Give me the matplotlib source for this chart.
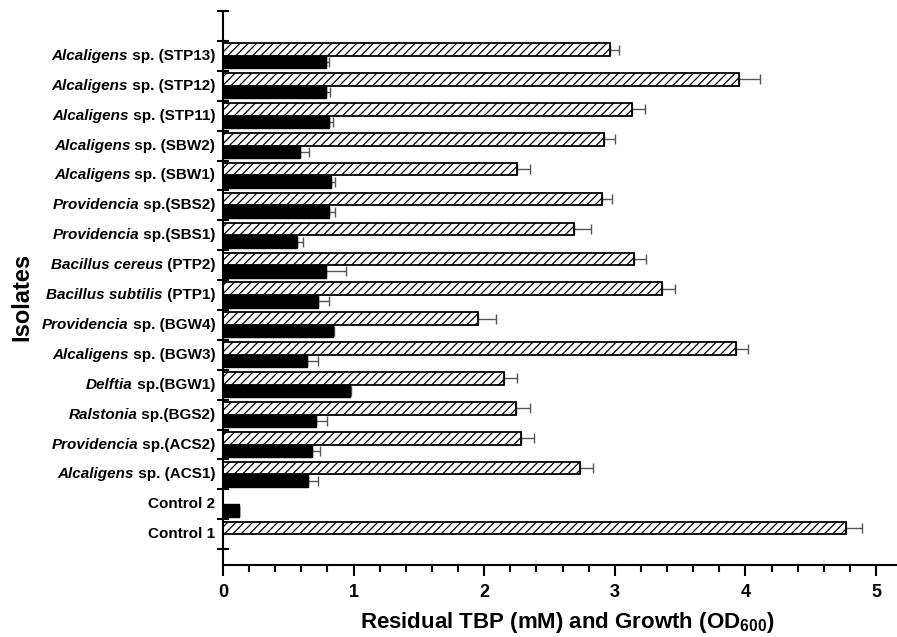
import numpy as np
import matplotlib
import matplotlib.pyplot as plt

matplotlib.use('Agg')

plt.rcParams['font.family'] = ['Liberation Sans', 'DejaVu Sans']
plt.rcParams['mathtext.fontset'] = 'custom'
plt.rcParams['mathtext.rm'] = 'Liberation Sans'
plt.rcParams['mathtext.it'] = 'Liberation Sans:italic'
plt.rcParams['mathtext.bf'] = 'Liberation Sans:bold'
plt.rcParams['hatch.linewidth'] = 0.9

# bottom to top
genus = ['', '', 'Alcaligens', 'Providencia', 'Ralstonia', 'Delftia',
         'Alcaligens', 'Providencia', 'Bacillus subtilis', 'Bacillus cereus',
         'Providencia', 'Providencia', 'Alcaligens', 'Alcaligens',
         'Alcaligens', 'Alcaligens', 'Alcaligens']
suffix = ['Control 1', 'Control 2', ' sp. (ACS1)', ' sp.(ACS2)', ' sp.(BGS2)',
          ' sp.(BGW1)', ' sp. (BGW3)', ' sp. (BGW4)', ' (PTP1)', ' (PTP2)',
          ' sp.(SBS1)', ' sp.(SBS2)', ' sp. (SBW1)', ' sp. (SBW2)',
          ' sp. (STP11)', ' sp. (STP12)', ' sp. (STP13)']

tbp = [4.77, np.nan, 2.73, 2.28, 2.24, 2.15, 3.93, 1.95, 3.36, 3.15,
       2.69, 2.90, 2.25, 2.92, 3.13, 3.95, 2.96]
tbp_err = [0.12, np.nan, 0.10, 0.10, 0.11, 0.10, 0.09, 0.14, 0.10, 0.09,
           0.13, 0.08, 0.10, 0.08, 0.10, 0.16, 0.07]

growth = [np.nan, 0.12, 0.65, 0.68, 0.71, 0.97, 0.64, 0.84, 0.73, 0.79,
          0.57, 0.81, 0.83, 0.59, 0.81, 0.79, 0.79]
growth_err = [np.nan, 0.0, 0.08, 0.06, 0.09, 0.01, 0.09, 0.01, 0.08, 0.15,
              0.04, 0.05, 0.03, 0.07, 0.03, 0.03, 0.02]


def draw_chart():
    fig = plt.figure(figsize=(8.97, 6.37), dpi=100)
    ax = fig.add_axes([0.2486, 0.1130, 0.7514, 0.8697])

    pos = np.arange(len(suffix))
    h = 0.42
    off = 0.21

    ax.barh(pos + off, tbp, height=h, color='white', edgecolor='black',
            hatch='////', linewidth=1.3, zorder=2)
    ax.barh(pos - off, growth, height=h, color='black', edgecolor='black',
            linewidth=1.0, zorder=2)

    # only the upper half of the error bars shows
    zeros = np.zeros(len(pos))
    ax.errorbar(tbp, pos + off, xerr=[zeros, tbp_err], fmt='none',
                ecolor='#555555', elinewidth=1.0, capsize=3.8, capthick=1.0,
                zorder=1)
    ax.errorbar(growth, pos - off, xerr=[zeros, growth_err], fmt='none',
                ecolor='#555555', elinewidth=1.0, capsize=3.8, capthick=1.0,
                zorder=1)

    ax.set_xlim(0, 5.16)
    ax.set_ylim(-1.03, 17.47)

    ax.spines['top'].set_visible(False)
    ax.spines['right'].set_visible(False)
    ax.spines['left'].set_linewidth(1.5)
    ax.spines['bottom'].set_linewidth(1.5)

    ax.set_xticks(np.arange(0, 6, 1))
    ax.set_xticks(np.arange(0, 5.2, 0.2), minor=True)
    ax.tick_params(axis='x', which='major', direction='out', length=8,
                   width=1.5, labelsize=13, pad=6)
    ax.tick_params(axis='x', which='minor', direction='out', length=5,
                   width=1.5)
    for lab in ax.get_xticklabels():
        lab.set_fontweight('bold')

    ax.set_yticks(np.arange(-0.5, 18, 1))
    ax.set_yticklabels([])
    ax.tick_params(axis='y', which='major', direction='inout', length=8,
                   width=1.5)

    # category labels: italic genus + upright rest
    for i in pos:
        t = ax.annotate(suffix[i], xy=(0, i), xycoords=('axes fraction', 'data'),
                        xytext=(-5.5, 0), textcoords='offset points',
                        ha='right', va='center', fontsize=11,
                        fontweight='bold')
        if genus[i]:
            ax.annotate(genus[i], xy=(0, 0.5), xycoords=t, ha='right',
                        va='center', fontsize=11, fontweight='bold',
                        fontstyle='italic')

    fig.text(0.632, 0.0141, 'Residual TBP (mM) and Growth (OD$_{\\mathbf{600}}$)',
             ha='center', va='baseline', fontsize=16, fontweight='bold')
    fig.text(0.024, 0.534, 'Isolates', rotation=90, ha='center', va='center',
             fontsize=17, fontweight='bold')

    fig.savefig('out.png', dpi=100)
    plt.close(fig)


if __name__ == "__main__":
    draw_chart()
